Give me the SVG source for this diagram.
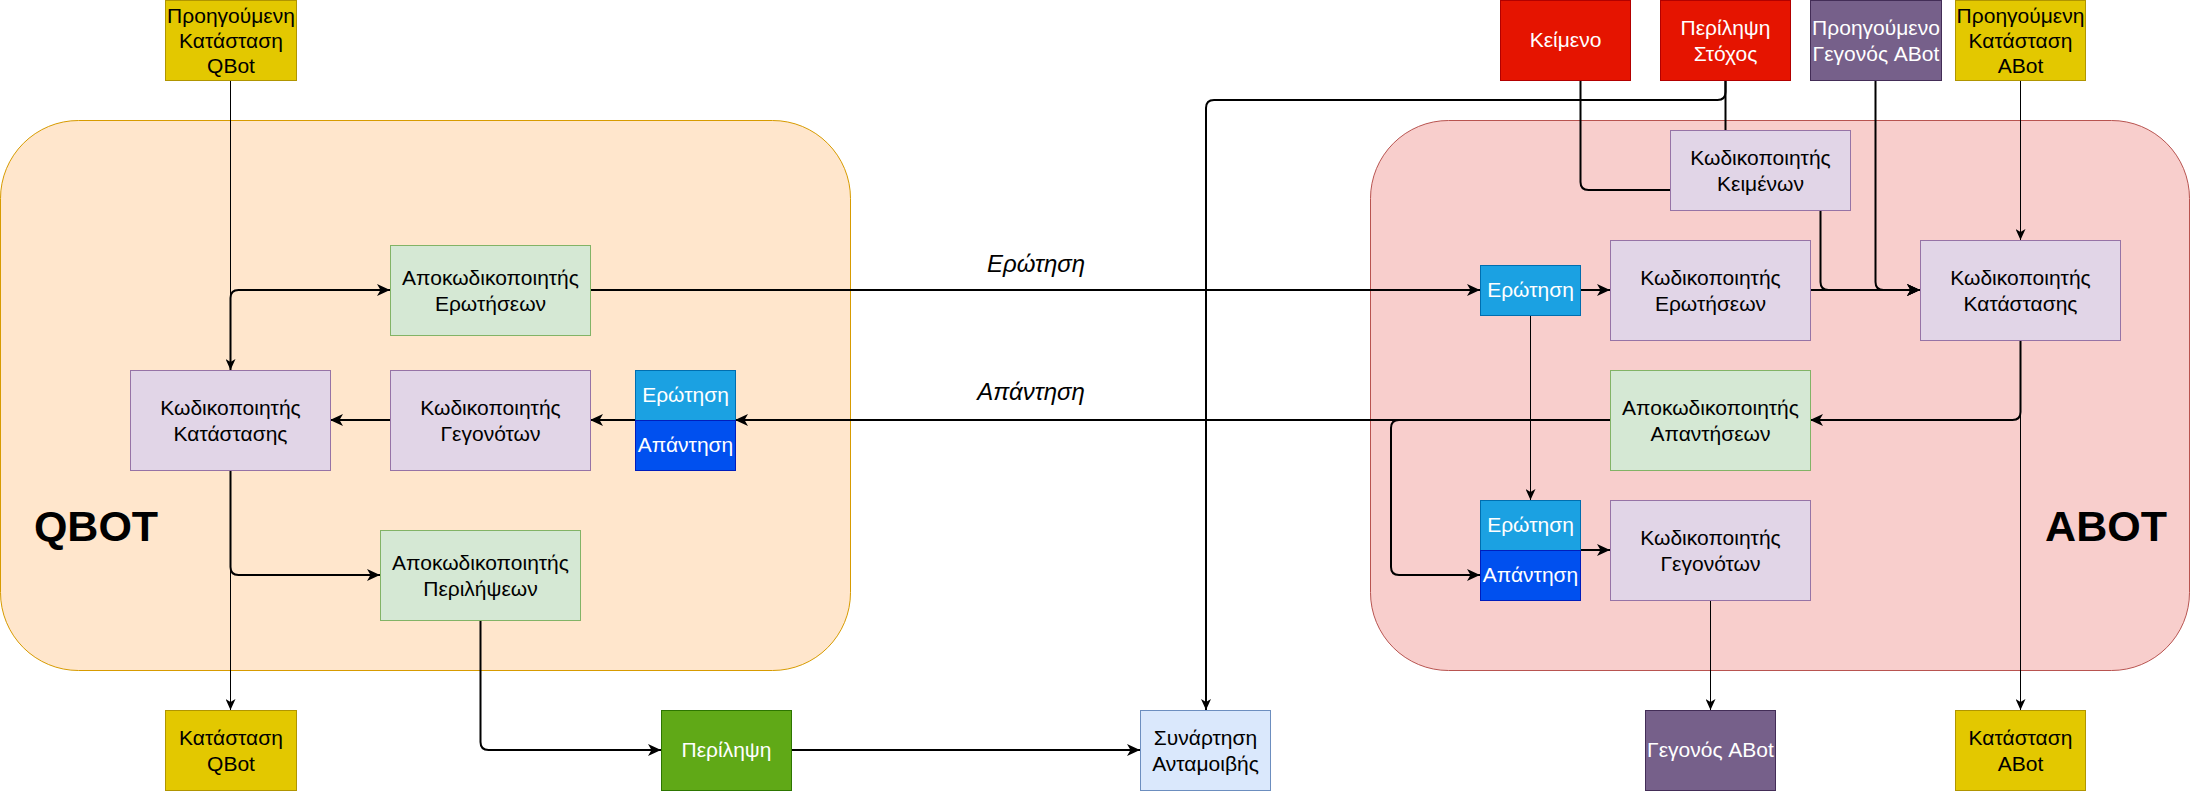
<svg xmlns="http://www.w3.org/2000/svg" width="2191" height="791" viewBox="0 0 2191 791">
<style>
text{font-family:"Liberation Sans",Arial,Helvetica,sans-serif;font-size:21px;text-anchor:middle;fill:#000}
.w{fill:#fff}
.lbl{font-size:24px;font-style:italic}
.big{font-size:43px;font-weight:bold}
.yel{fill:#e3c800;stroke:#b09500}
.red{fill:#e51400;stroke:#b20000}
.pur{fill:#76608a;stroke:#432d57}
.lpur{fill:#e1d5e7;stroke:#9673a6}
.lgr{fill:#d5e8d4;stroke:#82b366}
.dgr{fill:#60a917;stroke:#2d7600}
.qb{fill:#1ba1e2;stroke:#006eaf}
.ab{fill:#0050ef;stroke:#001dbc}
.lbl2{fill:#dae8fc;stroke:#6c8ebf}
.e1{fill:none;stroke:#000;stroke-width:1}
.e2{fill:none;stroke:#000;stroke-width:2}
</style>
<defs>
<marker id="a1" markerUnits="userSpaceOnUse" markerWidth="12" markerHeight="10" refX="11" refY="5" orient="auto"><path d="M0,0 L11,5 L0,10 L3,5 Z" fill="#000"/></marker>
<marker id="a2" markerUnits="userSpaceOnUse" markerWidth="14" markerHeight="12" refX="13" refY="6" orient="auto"><path d="M0,0 L13,6 L0,12 L3.5,6 Z" fill="#000"/></marker>
</defs>
<g id="containers">
<rect id="qbot" x="0.5" y="120.5" width="850" height="550" rx="78" ry="78" fill="#ffe6cc" stroke="#d79b00"/>
<rect id="abot" x="1370.5" y="120.5" width="819" height="550" rx="78" ry="78" fill="#f8cecc" stroke="#b85450"/>
<text class="big" x="96" y="541">QBOT</text>
<text class="big" x="2106" y="541">ABOT</text>
</g>
<g id="connectors">
<path class="e1" d="M230.5,80 V370" marker-end="url(#a1)"/>
<path class="e2" d="M230.5,370 V298 Q230.5,290 238.5,290 H390" marker-end="url(#a2)"/>
<path class="e2" d="M590,290 H1480" marker-end="url(#a2)"/>
<text class="lbl" x="1036" y="272">Ερώτηση</text>
<path class="e2" d="M1610,420 H735" marker-end="url(#a2)"/>
<text class="lbl" x="1031" y="400">Απάντηση</text>
<path class="e2" d="M635,420 H590" marker-end="url(#a2)"/>
<path class="e2" d="M390,420 H330" marker-end="url(#a2)"/>
<path class="e2" d="M230.5,470 V567 Q230.5,575 238.5,575 H380" marker-end="url(#a2)"/>
<path class="e1" d="M230.5,470 V710" marker-end="url(#a1)"/>
<path class="e2" d="M480.5,620 V742 Q480.5,750 488.5,750 H661" marker-end="url(#a2)"/>
<path class="e2" d="M791,750 H1140" marker-end="url(#a2)"/>
<path class="e2" d="M1725.5,80 V92 Q1725.5,100 1717.5,100 H1214 Q1206,100 1206,108 V710" marker-end="url(#a1)"/>
<path class="e2" d="M1725.5,80 V130"/>
<path class="e2" d="M1580.5,80 V182 Q1580.5,190 1588.5,190 H1670"/>
<path class="e2" d="M1820.5,210 V282 Q1820.5,290 1828.5,290 H1920" marker-end="url(#a2)"/>
<path class="e2" d="M1875.5,80 V282 Q1875.5,290 1883.5,290 H1920" marker-end="url(#a2)"/>
<path class="e1" d="M2020.5,80 V240" marker-end="url(#a1)"/>
<path class="e2" d="M1580,290 H1610" marker-end="url(#a2)"/>
<path class="e2" d="M1810,290 H1920" marker-end="url(#a2)"/>
<path class="e2" d="M2020.5,340 V412 Q2020.5,420 2012.5,420 H1810" marker-end="url(#a2)"/>
<path class="e1" d="M2020.5,340 V710" marker-end="url(#a1)"/>
<path class="e2" d="M1610,420 H1399 Q1391,420 1391,428 V567 Q1391,575 1399,575 H1480" marker-end="url(#a2)"/>
<path class="e1" d="M1530.5,315 V500" marker-end="url(#a1)"/>
<path class="e2" d="M1580,550 H1610" marker-end="url(#a2)"/>
<path class="e1" d="M1710.5,600 V710" marker-end="url(#a1)"/>
</g>
<g id="n_prev_qbot"><rect class="yel" x="165.5" y="0.5" width="131" height="80"/><text x="231" y="23">Προηγούμενη</text><text x="231" y="48">Κατάσταση</text><text x="231" y="73">QBot</text></g>
<g id="n_dec_q_left"><rect class="lgr" x="390.5" y="245.5" width="200" height="90"/><text x="490.5" y="285">Αποκωδικοποιητής</text><text x="490.5" y="311">Ερωτήσεων</text></g>
<g id="n_enc_state_left"><rect class="lpur" x="130.5" y="370.5" width="200" height="100"/><text x="230.5" y="415">Κωδικοποιητής</text><text x="230.5" y="441">Κατάστασης</text></g>
<g id="n_enc_fact_left"><rect class="lpur" x="390.5" y="370.5" width="200" height="100"/><text x="490.5" y="415">Κωδικοποιητής</text><text x="490.5" y="441">Γεγονότων</text></g>
<g id="n_q_left"><rect class="qb" x="635.5" y="370.5" width="100" height="50"/><text class="w" x="685.5" y="402">Ερώτηση</text></g>
<g id="n_a_left"><rect class="ab" x="635.5" y="420.5" width="100" height="50"/><text class="w" x="685.5" y="452">Απάντηση</text></g>
<g id="n_dec_sum"><rect class="lgr" x="380.5" y="530.5" width="200" height="90"/><text x="480.5" y="570">Αποκωδικοποιητής</text><text x="480.5" y="596">Περιλήψεων</text></g>
<g id="n_state_qbot"><rect class="yel" x="165.5" y="710.5" width="131" height="80"/><text x="231" y="745">Κατάσταση</text><text x="231" y="771">QBot</text></g>
<g id="n_summary"><rect class="dgr" x="661.5" y="710.5" width="130" height="80"/><text class="w" x="726.5" y="757">Περίληψη</text></g>
<g id="n_reward"><rect class="lbl2" x="1140.5" y="710.5" width="130" height="80"/><text x="1205.5" y="745">Συνάρτηση</text><text x="1205.5" y="771">Ανταμοιβής</text></g>
<g id="n_text"><rect class="red" x="1500.5" y="0.5" width="130" height="80"/><text class="w" x="1565.5" y="47">Κείμενο</text></g>
<g id="n_target"><rect class="red" x="1660.5" y="0.5" width="130" height="80"/><text class="w" x="1725.5" y="35">Περίληψη</text><text class="w" x="1725.5" y="61">Στόχος</text></g>
<g id="n_prev_fact"><rect class="pur" x="1810.5" y="0.5" width="131" height="80"/><text class="w" x="1876" y="35">Προηγούμενο</text><text class="w" x="1876" y="61">Γεγονός ABot</text></g>
<g id="n_prev_abot"><rect class="yel" x="1955.5" y="0.5" width="130" height="80"/><text x="2020.5" y="23">Προηγούμενη</text><text x="2020.5" y="48">Κατάσταση</text><text x="2020.5" y="73">ABot</text></g>
<g id="n_enc_text"><rect class="lpur" x="1670.5" y="130.5" width="180" height="80"/><text x="1760.5" y="165">Κωδικοποιητής</text><text x="1760.5" y="191">Κειμένων</text></g>
<g id="n_q_right"><rect class="qb" x="1480.5" y="265.5" width="100" height="50"/><text class="w" x="1530.5" y="297">Ερώτηση</text></g>
<g id="n_enc_q"><rect class="lpur" x="1610.5" y="240.5" width="200" height="100"/><text x="1710.5" y="285">Κωδικοποιητής</text><text x="1710.5" y="311">Ερωτήσεων</text></g>
<g id="n_enc_state_right"><rect class="lpur" x="1920.5" y="240.5" width="200" height="100"/><text x="2020.5" y="285">Κωδικοποιητής</text><text x="2020.5" y="311">Κατάστασης</text></g>
<g id="n_dec_ans"><rect class="lgr" x="1610.5" y="370.5" width="200" height="100"/><text x="1710.5" y="415">Αποκωδικοποιητής</text><text x="1710.5" y="441">Απαντήσεων</text></g>
<g id="n_q_right2"><rect class="qb" x="1480.5" y="500.5" width="100" height="50"/><text class="w" x="1530.5" y="532">Ερώτηση</text></g>
<g id="n_a_right2"><rect class="ab" x="1480.5" y="550.5" width="100" height="50"/><text class="w" x="1530.5" y="582">Απάντηση</text></g>
<g id="n_enc_fact_right"><rect class="lpur" x="1610.5" y="500.5" width="200" height="100"/><text x="1710.5" y="545">Κωδικοποιητής</text><text x="1710.5" y="571">Γεγονότων</text></g>
<g id="n_fact_abot"><rect class="pur" x="1645.5" y="710.5" width="130" height="80"/><text class="w" x="1710.5" y="757">Γεγονός ABot</text></g>
<g id="n_state_abot"><rect class="yel" x="1955.5" y="710.5" width="130" height="80"/><text x="2020.5" y="745">Κατάσταση</text><text x="2020.5" y="771">ABot</text></g>
</svg>
